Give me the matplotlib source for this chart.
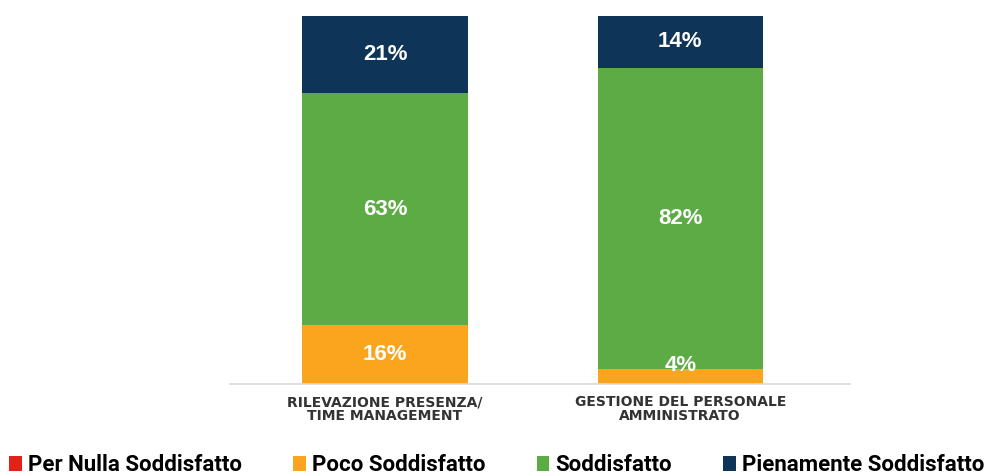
import matplotlib
matplotlib.use("Agg")
import matplotlib.pyplot as plt
from matplotlib.patches import Patch

# Survey satisfaction shares (%) per service area
categories = ["RILEVAZIONE PRESENZA/\nTIME MANAGEMENT", "GESTIONE DEL PERSONALE\nAMMINISTRATO"]
series_names = ["Per Nulla Soddisfatto", "Poco Soddisfatto", "Soddisfatto", "Pienamente Soddisfatto"]
per_nulla = [0, 0]
poco = [16, 4]
soddisfatto = [63, 82]
pienamente = [21, 14]

colors = ["#e2231a", "#fba51f", "#5cab45", "#0e3557"]

fig = plt.figure(figsize=(9.94, 4.75), dpi=100)
ax = fig.add_axes([0.2314, 0.1916, 0.624, 0.7747])

x = [0, 1]
width = 0.56
bottoms = [0, 0]
for name, vals, col in zip(series_names, [per_nulla, poco, soddisfatto, pienamente], colors):
    ax.bar(x, vals, width, bottom=bottoms, color=col, label=name, linewidth=0)
    for xi, v, b in zip(x, vals, bottoms):
        if v > 0:
            ypos = b + max(v / 2, 5)
            ax.text(xi, ypos, f"{v}%", ha="center", va="center", color="white",
                    fontsize=16, fontweight="bold", family="Liberation Sans")
    bottoms = [b + v for b, v in zip(bottoms, vals)]

ax.set_xlim(-0.525, 1.576)
ax.set_ylim(0, 100)
ax.set_yticks([])
ax.set_xticks(x)
ax.set_xticklabels(categories, fontsize=10, fontweight="bold", color="#333333",
                   family="DejaVu Sans", linespacing=1.0)
ax.tick_params(axis="x", length=0, pad=8)
for s in ["top", "right", "left"]:
    ax.spines[s].set_visible(False)
ax.spines["bottom"].set_color("#d9d9d9")
ax.spines["bottom"].set_linewidth(1.2)

handles = [Patch(facecolor=c, edgecolor="none") for c in colors]
fig.legend(handles, series_names, loc="lower center", bbox_to_anchor=(0.5, -0.045),
           ncol=4, frameon=False, handlelength=0.55, handleheight=0.6,
           handletextpad=0.3, columnspacing=2.3,
           prop={"family": "Roboto", "size": 16, "weight": "bold"})

fig.savefig("out.png", dpi=100)
